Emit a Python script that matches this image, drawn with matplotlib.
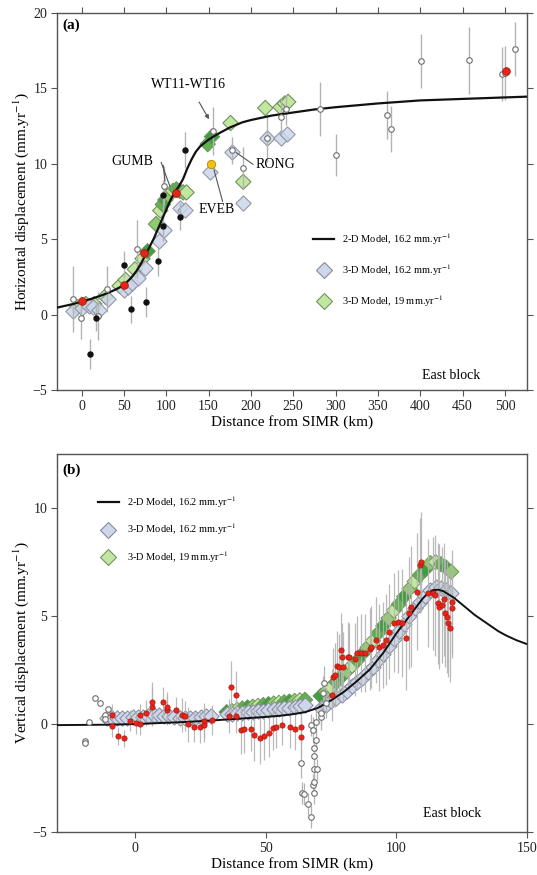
import matplotlib
matplotlib.use('Agg')
import matplotlib.pyplot as plt
from matplotlib.lines import Line2D
import numpy as np

plt.rcParams['font.family'] = ['Liberation Serif', 'DejaVu Serif']
plt.rcParams['mathtext.fontset'] = 'stix'

# ---------------- Panel (a): horizontal ----------------
model2d_a_x = [-29, -10, 0, 12, 25, 38, 50, 58, 65, 70, 75, 80, 85, 90, 95, 100, 105, 110, 115, 120, 125, 130, 135, 140,
               150, 160, 175, 190, 200, 225, 250, 275, 300, 350, 400, 450, 526]
model2d_a_y = [0.46, 0.7, 0.86, 1.05, 1.3, 1.6, 1.95, 2.4, 2.9, 3.35, 3.9, 4.45, 5.0, 5.65, 6.3, 6.95, 7.6, 8.1, 8.5, 9.0, 9.7, 10.3, 10.8, 11.15,
               11.6, 11.95, 12.4, 12.75, 12.9, 13.2, 13.4, 13.6, 13.75, 14.0, 14.2, 14.3, 14.45]

blue_a_x = [-10, 0, 9, 14, 21, 31, 50, 55, 60, 67, 75, 91, 97, 116, 122, 152, 178, 191, 219, 236, 243]
blue_a_y = [0.25, 0.45, 0.55, 0.5, 0.3, 1.0, 1.6, 1.8, 2.1, 2.4, 3.1, 4.9, 5.6, 7.1, 6.95, 9.45, 10.8, 7.4, 11.7, 11.7, 12.0]

green_a_x = [-5, 5, 15, 28, 45, 52, 63, 72, 78, 88, 93, 96, 99, 103, 108, 112, 116, 120, 124, 149, 154, 176, 191, 217, 235, 240, 244]
green_a_y = [0.5, 0.7, 0.7, 1.2, 1.9, 2.3, 3.0, 3.7, 4.2, 6.0, 6.9, 7.3, 7.6, 7.9, 8.2, 8.3, 8.2, 8.1, 8.1, 11.3, 11.8, 12.7, 8.8, 13.7, 13.75, 14.0, 14.1]

open_a_x = [-10, -1, 30, 20, 66, 97.5, 155, 178, 191, 219, 235, 241, 282, 301, 361, 366, 401, 457, 496, 500, 512]
open_a_y = [1.05, -0.2, 1.7, -0.1, 4.35, 8.55, 12.15, 10.9, 9.7, 11.7, 13.1, 13.6, 13.65, 10.6, 13.25, 12.3, 16.8, 16.85, 15.95, 16.0, 17.6]
open_a_err = [2.2, 1.4, 1.5, 1.6, 1.9, 1.3, 1.6, 0.9, 1.4, 1.6, 1.2, 1.0, 1.8, 1.4, 1.6, 1.5, 1.8, 2.2, 1.8, 1.8, 1.8]

black_a_x = [10, 17, 50, 58, 76, 90.6, 96.6, 96.6, 116, 122]
black_a_y = [-2.6, -0.2, 3.3, 0.35, 0.85, 3.55, 5.9, 7.9, 6.5, 10.9]
black_a_err = [1.0, 0.9, 0.9, 0.9, 1.0, 1.0, 1.0, 1.0, 0.9, 1.2]

red_a_x = [0, 50, 74, 111, 501.5]
red_a_y = [0.87, 1.95, 4.05, 8.05, 16.15]

yellow_a_x = [153]
yellow_a_y = [9.96]

# ---------------- Panel (b): vertical ----------------
model2d_b_x = [-30, -10, 0, 10, 20, 30, 40, 50, 55, 60, 65, 70, 75, 80, 85, 90, 95, 100, 105, 110, 112, 114, 116, 118, 120,
               122, 124, 126, 128, 130, 133, 136, 139, 142, 146, 150]
model2d_b_y = [-0.05, -0.03, 0, 0.05, 0.1, 0.17, 0.25, 0.33, 0.38, 0.45, 0.55, 0.75, 1.1, 1.5, 2.0, 2.55, 3.3, 4.2, 5.0, 5.8, 6.05, 6.2, 6.22, 6.15, 6.0,
               5.85, 5.65, 5.45, 5.25, 5.05, 4.8, 4.55, 4.3, 4.1, 3.88, 3.7]

blue_b_x = [-11, -9, -7, -5, -3, -1, 1, 3, 5, 7, 9, 11, 13, 15, 17, 19, 21, 23, 25, 27, 29,
            35, 37, 39, 41, 43, 45, 47, 49, 51, 53, 55, 57, 59, 61, 63, 65,
            71, 73, 75, 77, 79, 81, 83, 85, 87, 89, 91, 93, 95, 97, 99, 101, 103, 105, 107, 109, 111, 113, 115, 117, 119, 121]
blue_b_y = [0.3, 0.3, 0.3, 0.3, 0.3, 0.32, 0.32, 0.32, 0.35, 0.4, 0.4, 0.35, 0.35, 0.32, 0.3, 0.3, 0.3, 0.3, 0.32, 0.35, 0.35,
            0.45, 0.48, 0.5, 0.52, 0.55, 0.58, 0.6, 0.62, 0.65, 0.68, 0.7, 0.73, 0.76, 0.8, 0.83, 0.86,
            0.75, 0.9, 1.05, 1.2, 1.35, 1.55, 1.75, 1.95, 2.15, 2.4, 2.65, 2.95, 3.25, 3.6, 3.95, 4.3, 4.65, 5.0, 5.35, 5.65, 5.95, 6.2, 6.35, 6.3, 6.2, 6.05]

green_b_x = [35, 37, 39, 41, 43, 45, 47, 49, 51, 53, 55, 57, 59, 61, 63, 65,
             71, 73, 75, 77, 79, 81, 83, 85, 87, 89, 91, 93, 95, 97, 99, 101, 103, 105, 107, 109, 111, 113, 115, 117, 119, 121]
green_b_y = [0.55, 0.6, 0.66, 0.72, 0.77, 0.8, 0.84, 0.88, 0.92, 0.95, 0.98, 1.01, 1.04, 1.07, 1.1, 1.12,
             1.3, 1.5, 1.7, 1.95, 2.2, 2.45, 2.7, 2.95, 3.25, 3.55, 3.85, 4.2, 4.55, 4.9, 5.25, 5.55, 5.9, 6.25, 6.6, 6.9, 7.15, 7.45, 7.5, 7.4, 7.25, 7.05]

red_b_x = [-9.0, -9.0, -6.8, -4.5, -1.9, 0.4, 1.9, 1.9, 4.1, 6.4, 6.4, 10.5, 12.2, 12.2, 15.4, 17.7, 19.2, 20.1, 22.4, 24.6, 26.5, 26.5, 29.5,
           35.9, 36.5, 38.6, 38.6, 40.4, 41.8, 44.2, 45.6, 47.6, 49.4, 51.3, 52.6, 54.0, 56.2, 59.4, 61.2, 63.5, 63.5,
           75.4, 75.8, 76.3, 77.3, 78.2, 78.8, 79.0, 79.5, 81.5, 82.0, 84.0, 85.0, 86.5, 88.0, 89.7, 90.4, 92.3, 93.2, 94.9, 96.2,
           97.0, 99.0, 100.6, 102.0, 103.8, 105.0, 105.5, 107.7, 109.0, 109.6, 112.2, 114.0, 114.7, 115.8, 116.3, 117.3, 118.3,
           118.6, 119.2, 119.9, 120.5, 121.2, 121.2]
red_b_y = [0.42, -0.09, -0.55, -0.66, 0.16, 0.06, -0.02, 0.42, 0.53, 0.8, 1.03, 1.03, 0.65, 0.8, 0.65, 0.42, 0.37, -0.02, -0.12, -0.16, 0.16, -0.04, 0.2,
           0.37, 1.73, 1.35, 0.37, -0.28, -0.22, -0.24, -0.51, -0.66, -0.55, -0.43, -0.2, -0.12, -0.05, -0.12, -0.22, -0.14, -0.58,
           1.34, 2.2, 2.27, 2.7, 2.65, 3.43, 3.1, 2.65, 3.12, 3.1, 3.0, 3.3, 3.3, 3.3, 3.46, 3.58, 3.9, 3.55, 3.66, 3.9,
           4.27, 4.7, 4.74, 4.7, 3.97, 5.13, 5.44, 6.13, 7.36, 7.5, 6.05, 6.05, 5.97, 5.6, 5.43, 5.51, 5.77,
           5.13, 4.97, 4.66, 4.43, 5.66, 5.36]
red_b_err = [0.5, 0.5, 0.4, 0.4, 0.5, 0.5, 0.5, 0.5, 0.6, 0.9, 0.9, 0.7, 0.7, 0.7, 0.6, 0.8, 0.7, 0.8, 0.7, 0.7, 0.8, 0.8, 0.7,
             0.8, 1.2, 1.1, 0.8, 1.1, 1.1, 1.0, 1.2, 1.2, 1.1, 1.1, 1.0, 1.0, 0.9, 1.0, 1.0, 0.9, 0.9,
             1.2, 1.3, 1.5, 1.6, 1.5, 1.7, 1.6, 1.6, 1.6, 1.6, 1.7, 1.7, 1.8, 1.8, 1.9, 1.9, 2.0, 2.0, 2.0, 2.1,
             2.2, 2.3, 2.4, 2.5, 2.4, 2.6, 2.8, 2.7, 2.2, 2.3, 2.5, 2.6, 2.8, 2.8, 2.9, 2.7, 2.6,
             2.5, 2.6, 2.5, 2.5, 2.4, 2.3]

open_b_x = [-19.2, -19.2, -17.6, -15.6, -13.7, -11.5, -11.5, -10.5, 63.5, 64.0, 64.6, 66.3, 67.3, 67.3, 68.0, 68.0, 68.3, 68.3,
            68.6, 68.6, 68.6, 69.2, 69.2, 69.5, 71.2, 71.2, 71.8, 72.4, 73.0]
open_b_y = [-0.78, -0.9, 0.1, 1.19, 0.96, 0.42, 0.25, 0.7, -1.82, -3.2, -3.25, -3.7, -4.3, -0.05, -0.28, -2.8, -3.2, -2.67,
            -2.1, -1.5, -1.13, -0.74, 0.1, -2.1, 0.34, 0.5, 1.42, 1.9, 0.96]
open_b_err = [0, 0, 0, 0, 0, 0, 0, 0, 0.7, 0.5, 0.5, 0.5, 0.5, 0.5, 0.6, 0.5, 0.5, 0.5,
              0.5, 0.5, 0.5, 0.5, 0.5, 0.5, 0.6, 0.6, 0.8, 0.8, 0.7]

# ---------------- styles ----------------
BLUE_FACE, BLUE_EDGE = '#cdd6ea', '#858a9a'
GREEN_FACE, GREEN_EDGE = '#c3e6a0', '#6f9460'
GREEN_SHADES = ['#3f9f3f', '#8fcc6a', '#c3e6a0', '#5fb24c']
ERR_C = '#b3b3b3'
SPINE_C = '#555555'
DMS = 7.8

fig = plt.figure(figsize=(5.37, 8.75), dpi=100)
ax1 = fig.add_axes([0.1061, 0.5543, 0.8752, 0.4309])
ax2 = fig.add_axes([0.1061, 0.0491, 0.8752, 0.4320])


def style_axes(ax, top):
    for s in ax.spines.values():
        s.set_color(SPINE_C)
        s.set_linewidth(1.0)
    ax.tick_params(direction='out', length=4, width=0.8, color=SPINE_C, pad=3,
                   labelsize=10, top=top, right=True, labeltop=False, labelright=False,
                   labelcolor='#222222')


# ---- panel a ----
ax1.set_xlim(-29, 526)
ax1.set_ylim(-5, 20)
ax1.set_xticks(list(range(0, 501, 50)))
ax1.set_yticks([-5, 0, 5, 10, 15, 20])
style_axes(ax1, True)

ga_cols = [GREEN_SHADES[i % 4] if 8 <= i <= 20 else GREEN_FACE for i in range(len(green_a_x))]
ax1.scatter(green_a_x, green_a_y, marker='D', s=DMS**2, c=ga_cols, edgecolors=GREEN_EDGE, linewidths=0.8, zorder=2)
ax1.scatter(blue_a_x, blue_a_y, marker='D', s=DMS**2, c=BLUE_FACE, edgecolors=BLUE_EDGE, linewidths=0.8, alpha=0.85, zorder=2.5)
ax1.errorbar(open_a_x, open_a_y, yerr=open_a_err, fmt='none', ecolor=ERR_C, elinewidth=1.0, zorder=3)
ax1.errorbar(black_a_x, black_a_y, yerr=black_a_err, fmt='none', ecolor=ERR_C, elinewidth=1.0, zorder=3)
ax1.plot(model2d_a_x, model2d_a_y, color='#111111', lw=1.6, zorder=4)
ax1.plot(open_a_x, open_a_y, 'o', ms=4, mfc='white', mec='#6e6e6e', mew=0.8, ls='none', zorder=5)
ax1.plot(black_a_x, black_a_y, 'o', ms=3.6, mfc='#111111', mec='#111111', ls='none', zorder=5)
ax1.plot(red_a_x, red_a_y, 'o', ms=5.5, mfc='#e52518', mec='#b01510', mew=0.6, ls='none', zorder=6)
ax1.plot(yellow_a_x, yellow_a_y, 'o', ms=6, mfc='#f4c20d', mec='#b08a00', mew=0.6, ls='none', zorder=6)

ax1.set_xlabel('Distance from SIMR (km)', fontsize=11, labelpad=2)
ax1.set_ylabel('Horizontal displacement (mm.yr$^{-1}$)', fontsize=11, labelpad=1)
ax1.text(0.012, 0.968, '(a)', transform=ax1.transAxes, fontsize=11, fontweight='bold', va='center', ha='left')
ax1.text(436, -4.05, 'East block', fontsize=10, ha='center', va='center')

arrow_kw = dict(arrowstyle='-|>', color='#555555', lw=0.8, mutation_scale=6)
line_kw = dict(arrowstyle='-', color='#555555', lw=0.8)
ax1.annotate('WT11-WT16', xy=(150.5, 12.95), xytext=(126.8, 15.27), fontsize=10, ha='center', va='center',
             arrowprops=dict(arrow_kw, shrinkA=7, shrinkB=0))
ax1.text(59.6, 10.16, 'GUMB', fontsize=10, ha='center', va='center')
ax1.annotate('', xy=(104.4, 8.5), xytext=(94, 10.1), arrowprops=dict(line_kw, shrinkA=0, shrinkB=0))
ax1.annotate('', xy=(98.5, 8.85), xytext=(96.5, 9.9), arrowprops=dict(line_kw, shrinkA=0, shrinkB=0))
ax1.text(159.5, 6.95, 'EVEB', fontsize=10, ha='center', va='center')
ax1.annotate('', xy=(156.4, 9.6), xytext=(166.6, 7.5), arrowprops=dict(line_kw, shrinkA=0, shrinkB=0))
ax1.text(206, 9.96, 'RONG', fontsize=10, ha='left', va='center')
ax1.annotate('', xy=(182.5, 10.75), xytext=(202.5, 9.96), arrowprops=dict(line_kw, shrinkA=0, shrinkB=0))


def make_handles():
    return [Line2D([], [], color='#111111', lw=1.6),
            Line2D([], [], marker='D', ms=8, mfc=BLUE_FACE, mec=BLUE_EDGE, mew=0.8, ls='none'),
            Line2D([], [], marker='D', ms=8, mfc=GREEN_FACE, mec=GREEN_EDGE, mew=0.8, ls='none')]


labels = ['2-D Model, 16.2 mm.yr$^{-1}$', '3-D Model, 16.2 mm.yr$^{-1}$', '3-D Model, 19 mm.yr$^{-1}$']
ax1.legend(make_handles(), labels, loc='center left', bbox_to_anchor=(0.545, 0.318), frameon=False,
           fontsize=7.5, handlelength=2.0, handletextpad=0.75, labelspacing=1.5, borderpad=0, borderaxespad=0)

# ---- panel b ----
ax2.set_xlim(-30, 150)
ax2.set_ylim(-5, 12.5)
ax2.set_xticks([0, 50, 100, 150])
ax2.set_yticks([-5, 0, 5, 10])
style_axes(ax2, False)

gb_cols = [GREEN_SHADES[i % 4] for i in range(len(green_b_x))]
ax2.scatter(green_b_x, green_b_y, marker='D', s=DMS**2, c=gb_cols, edgecolors=GREEN_EDGE, linewidths=0.7, zorder=2)
ax2.scatter(blue_b_x, blue_b_y, marker='D', s=DMS**2, c=BLUE_FACE, edgecolors=BLUE_EDGE, linewidths=0.7, zorder=2.5)
ax2.errorbar(red_b_x, red_b_y, yerr=red_b_err, fmt='none', ecolor=ERR_C, elinewidth=0.9, alpha=0.9, zorder=3)
ax2.errorbar(open_b_x, open_b_y, yerr=open_b_err, fmt='none', ecolor=ERR_C, elinewidth=0.9, zorder=3)
ax2.plot(model2d_b_x, model2d_b_y, color='#111111', lw=1.4, zorder=4)
ax2.plot(open_b_x, open_b_y, 'o', ms=4, mfc='white', mec='#6e6e6e', mew=0.8, ls='none', zorder=5)
ax2.plot(red_b_x, red_b_y, 'o', ms=3.8, mfc='#e52518', mec='#b01510', mew=0.5, ls='none', zorder=6)

ax2.set_xlabel('Distance from SIMR (km)', fontsize=11, labelpad=2)
ax2.set_ylabel('Vertical displacement (mm.yr$^{-1}$)', fontsize=11, labelpad=1)
ax2.text(0.012, 0.958, '(b)', transform=ax2.transAxes, fontsize=11, fontweight='bold', va='center', ha='left')
ax2.text(121.5, -4.12, 'East block', fontsize=10, ha='center', va='center')
ax2.legend(make_handles(), labels, loc='center left', bbox_to_anchor=(0.087, 0.80), frameon=False,
           fontsize=7.5, handlelength=2.0, handletextpad=0.75, labelspacing=1.15, borderpad=0, borderaxespad=0)

fig.savefig('out.png', dpi=100)
